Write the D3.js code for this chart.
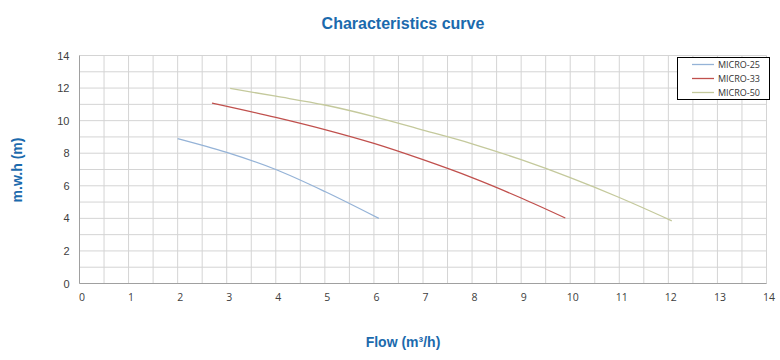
<!DOCTYPE html>
<html><head><meta charset="utf-8">
<script src="https://cdn.jsdelivr.net/npm/d3@7"></script>
<style>body{margin:0;background:#fff}</style>
</head><body>
<svg id="c" width="780" height="360"></svg>
<script>
const xTicks = [0,1,2,3,4,5,6,7,8,9,10,11,12,13,14];
const yTicks = [0,2,4,6,8,10,12,14];
const seriesNames = ["MICRO-25","MICRO-33","MICRO-50"];
const seriesColors = ["#95b3d7","#c0504d","#c4c99c"];
const micro25 = [[2.0,8.9],[3.0,8.05],[4.0,7.0],[5.0,5.65],[6.1,4.0]];
const micro33 = [[2.7,11.08],[4,10.2],[5,9.45],[6,8.6],[7,7.6],[8,6.5],[9,5.25],[9.9,4.02]];
const micro50 = [[3.07,11.98],[4,11.5],[5,10.96],[6,10.25],[7,9.42],[8,8.58],[9,7.6],[10,6.5],[11,5.28],[12.07,3.85]];
const allSeries = [micro25, micro33, micro50];

const svg = d3.select("#c");
const x = d3.scaleLinear().domain([0,14]).range([79.5,766.5]);
const y = d3.scaleLinear().domain([0,14]).range([283.5,55.5]);

// grid
const g = svg.append("g");
g.selectAll("line.v").data(d3.range(0,14.01,0.5)).join("line")
  .attr("x1",d=>x(d)).attr("x2",d=>x(d)).attr("y1",y(0)).attr("y2",y(14))
  .attr("stroke","#d4d4d4").attr("stroke-width",1);
g.selectAll("line.h").data(d3.range(0,14.01,1)).join("line")
  .attr("x1",x(0)).attr("x2",x(14)).attr("y1",d=>y(d)).attr("y2",d=>y(d))
  .attr("stroke","#d4d4d4").attr("stroke-width",1);
// axis lines
svg.append("line").attr("x1",x(0)).attr("x2",x(0)).attr("y1",y(0)).attr("y2",y(14)).attr("stroke","#a0a0a0");
svg.append("line").attr("x1",x(0)).attr("x2",x(14)).attr("y1",y(0)).attr("y2",y(0)).attr("stroke","#a0a0a0");

// y axis ticks
const yAxis = d3.axisLeft(y).tickValues(yTicks).tickSize(0).tickPadding(10);
const ya = svg.append("g").attr("transform",`translate(${x(0)},0)`).call(yAxis);
ya.select(".domain").remove();
ya.selectAll("text").attr("font-family","Liberation Sans, Arial, sans-serif").attr("font-size",11).attr("fill","#404040");

// x axis ticks
const xAxis = d3.axisBottom(x).tickValues(xTicks).tickSize(0).tickPadding(10);
const xa = svg.append("g").attr("transform",`translate(2,${y(0)})`).call(xAxis);
xa.select(".domain").remove();
xa.selectAll("text").attr("font-family","Open Sans, sans-serif").attr("font-size",10.5).attr("fill","#404040");

// lines
const line = d3.line().x(d=>x(d[0])).y(d=>y(d[1])).curve(d3.curveMonotoneX);
svg.selectAll("path.s").data(allSeries).join("path")
  .attr("d",line).attr("fill","none")
  .attr("stroke",(d,i)=>seriesColors[i]).attr("stroke-width",1.3);

// legend
const lg = svg.append("g");
lg.append("rect").attr("x",677.5).attr("y",57.5).attr("width",92).attr("height",42)
  .attr("fill","#fff").attr("stroke","#000").attr("stroke-width",1);
seriesNames.forEach((n,i)=>{
  const yy = 64.5 + i*14;
  lg.append("line").attr("x1",692).attr("x2",714).attr("y1",yy).attr("y2",yy)
    .attr("stroke",seriesColors[i]).attr("stroke-width",1.3);
  lg.append("text").attr("x",718).attr("y",yy+3.5).text(n)
    .attr("font-family","Open Sans, sans-serif").attr("font-size",9).attr("fill","#333");
});

// titles
svg.append("text").attr("x",403).attr("y",29).attr("text-anchor","middle")
  .attr("font-family","Liberation Sans, Arial, sans-serif").attr("font-weight","bold")
  .attr("font-size",16).attr("fill","#1b6aad").text("Characteristics curve");
svg.append("text").attr("transform","translate(22,170) rotate(-90)").attr("text-anchor","middle")
  .attr("font-family","Liberation Sans, Arial, sans-serif").attr("font-weight","bold")
  .attr("font-size",14).attr("fill","#1b6aad").text("m.w.h (m)");
svg.append("text").attr("x",403).attr("y",347).attr("text-anchor","middle")
  .attr("font-family","Liberation Sans, Arial, sans-serif").attr("font-weight","bold")
  .attr("font-size",14).attr("fill","#1b6aad").text("Flow (m³/h)");
</script>
</body></html>
